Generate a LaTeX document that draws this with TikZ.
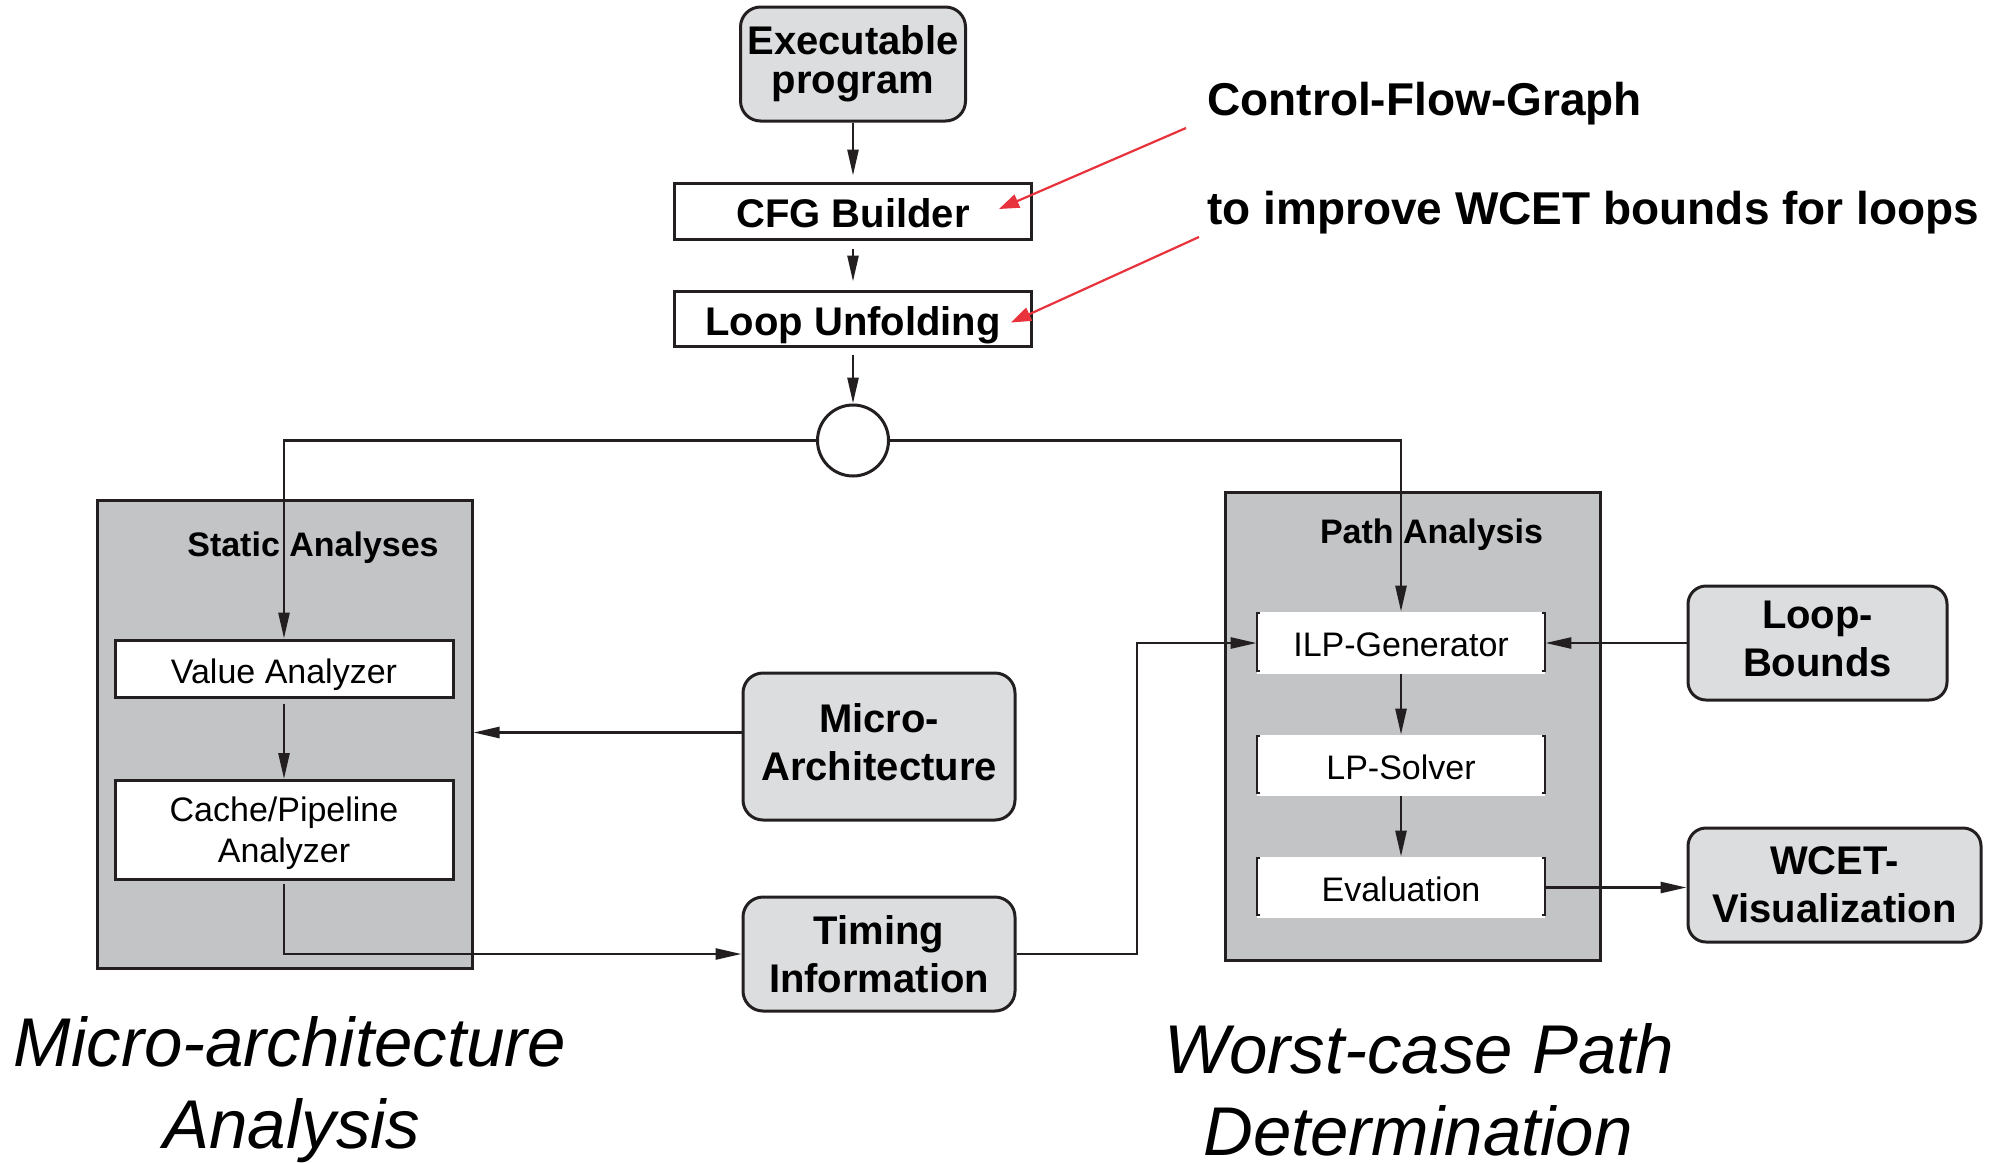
\documentclass[tikz,border=0pt]{standalone}
\usepackage{fontspec}
\setmainfont{Liberation Sans}
\usetikzlibrary{arrows.meta,calc}
\definecolor{boxgray}{RGB}{220,221,223}
\definecolor{panelgray}{RGB}{195,196,198}
\definecolor{notered}{RGB}{232,50,60}
\definecolor{ink}{RGB}{35,31,32}

\begin{document}
\begin{tikzpicture}[x=0.5pt,y=-0.5pt,
  arr/.style={draw=ink, line width=1.3pt, -{Triangle[length=13pt,width=5.5pt]}},
  redarr/.style={draw=notered, line width=1.1pt, -{Triangle[length=10pt,width=7pt]}},
  rbox/.style={draw=ink, line width=1.5pt, fill=boxgray, rounded corners=10pt,
    align=center, inner sep=0pt, font=\fontsize{20pt}{24pt}\selectfont\bfseries},
  sbox/.style={draw=ink, line width=1.5pt, fill=white, inner sep=0pt, align=center},
  capbold/.style={text height=16.8pt, text depth=0pt},
  capreg/.style={text height=13.6pt, text depth=0pt},
  panel/.style={draw=ink, line width=1.5pt, fill=panelgray, inner sep=0pt},
  pbox/.style={fill=white, inner sep=0pt, minimum width=144pt, capreg,
    font=\fontsize{17pt}{20pt}\selectfont},
  bracket/.style={draw=ink, line width=1pt},
  title/.style={inner sep=0pt, anchor=base, font=\fontsize{17pt}{20pt}\selectfont\bfseries},
  note/.style={inner sep=0pt, anchor=base west, font=\fontsize{23pt}{27pt}\selectfont\bfseries},
  caption/.style={inner sep=0pt, anchor=base, font=\fontsize{34.5pt}{41pt}\selectfont\itshape}]

\fill[white] (0,0) rectangle (2000,1162);
\useasboundingbox (0,0) rectangle (2000,1162);

% large grey panels
\node[panel, minimum width=187.5pt, minimum height=234pt] (static) at (284.5,734) {};
\node[panel, minimum width=187.5pt, minimum height=234pt] (path) at (1412.5,726) {};
\node[title] (statict) at (313,556) {Static Analyses};
\node[title] (patht) at (1431.5,543) {Path Analysis};

% front end chain
\node[rbox, minimum width=112.5pt, minimum height=57pt,
  font=\fontsize{20pt}{19.5pt}\selectfont\bfseries] (exec) at (853,64) {Executable\\program};
\node[sbox, capbold, minimum width=178.5pt, minimum height=28pt,
  font=\fontsize{20pt}{24pt}\selectfont\bfseries] (cfg) at (853,211) {CFG Builder};
\node[sbox, capbold, minimum width=178.5pt, minimum height=27.5pt,
  font=\fontsize{20pt}{24pt}\selectfont\bfseries] (lpu) at (853,318.5) {Loop Unfolding};
\node[draw=ink, line width=1.5pt, fill=white, circle, minimum size=35.5pt, inner sep=0pt] (split) at (853,440.5) {};

% static analyses
\node[sbox, text height=14.6pt, text depth=0pt, minimum width=169pt, minimum height=28.5pt,
  font=\fontsize{17pt}{20pt}\selectfont] (value) at (284,668.5) {Value Analyzer};
\node[sbox, minimum width=169pt, minimum height=49.5pt, text depth=0pt,
  font=\fontsize{17pt}{20.5pt}\selectfont] (cache) at (284,830) {Cache/Pipeline\\Analyzer};

% inputs and outputs
\node[rbox, minimum width=136pt, minimum height=73.5pt, text depth=5pt] (micro) at (879,746.5) {Micro-\\Architecture};
\node[rbox, minimum width=136pt, minimum height=57pt] (timing) at (879,954) {Timing\\Information};
\node[rbox, minimum width=129.5pt, minimum height=57pt, rounded corners=9pt, text depth=4pt] (lb) at (1817.5,643) {Loop-\\Bounds};
\node[rbox, minimum width=146.5pt, minimum height=57pt, rounded corners=9pt] (wcet) at (1834.5,885) {WCET-\\Visualization};

% path analysis steps
\node[pbox, minimum height=31pt] (ilp) at (1401,643) {ILP-Generator};
\node[pbox, minimum height=30.5pt] (lps) at (1401,765.5) {LP-Solver};
\node[pbox, minimum height=30.5pt] (evl) at (1401,887.5) {Evaluation};
\foreach \n in {ilp,lps,evl}{
  \draw[bracket] ([xshift=1.5pt,yshift=-0.5pt]\n.north west) -- ([yshift=-0.5pt]\n.north west)
    -- ([yshift=1.5pt]\n.south west) -- ([xshift=1.5pt,yshift=1.5pt]\n.south west);
  \draw[bracket] ([xshift=-1.5pt,yshift=-0.5pt]\n.north east) -- ([yshift=-0.5pt]\n.north east)
    -- ([yshift=1.5pt]\n.south east) -- ([xshift=-1.5pt,yshift=1.5pt]\n.south east);
}

% annotations
\node[note] (cfgnote) at (1207,115) {Control-Flow-Graph};
\node[note] (loopnote) at (1207,224) {to improve WCET bounds for loops};
\coordinate (r1s) at (1186,128);
\coordinate (r2s) at (1199,237);
\draw[redarr] (r1s) -- ([xshift=-17pt,yshift=1pt]cfg.east);
\draw[redarr] (r2s) -- ([xshift=-11pt,yshift=-2pt]lpu.east);

% captions
\node[caption] (capa1) at (290,1066) {Micro-architecture};
\node[caption] (capa2) at (292,1148) {Analysis};
\node[caption] (capb1) at (1419,1073) {Worst-case Path};
\node[caption] (capb2) at (1418,1155) {Determination};

% connectors
\draw[arr, shorten <=0pt, shorten >=3pt] (exec) -- (cfg);
\draw[arr, shorten <=4pt, shorten >=4pt] (cfg) -- (lpu);
\draw[arr, shorten <=3.5pt] (lpu) -- (split);
\draw[arr] (split.west) -| (value.north);
\draw[arr] (split.east) -| (ilp.north);
\draw[arr, shorten <=2.5pt] (value) -- (cache);
\coordinate (mm) at ([yshift=7pt]micro.west);
\draw[arr] (mm) -- (mm -| static.east);
\draw[arr, shorten <=1.5pt] (cache.south) |- (timing.west);
\coordinate (bend) at (1137,800);
\draw[arr] (timing.east) -- (timing.east -| bend) |- (ilp.west);
\draw[arr] (lb.west) -- (ilp.east);
\draw[arr] (ilp) -- (lps);
\draw[arr] (lps) -- (evl);
\draw[arr] (evl.east) -- (evl.east -| wcet.west);
\end{tikzpicture}
\end{document}
